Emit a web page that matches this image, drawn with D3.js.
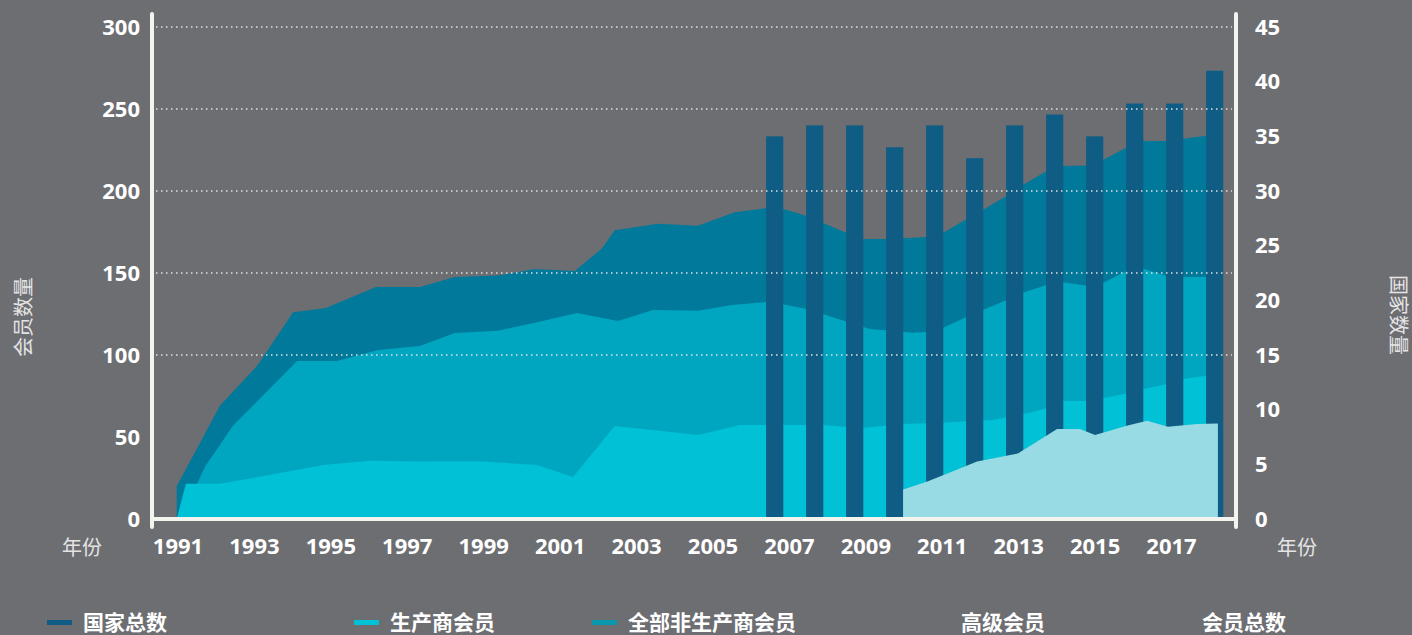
<!DOCTYPE html>
<html>
<head>
<meta charset="utf-8">
<script src="https://cdn.jsdelivr.net/npm/d3@7"></script>
<style>
  body { margin: 0; background: #6d6e72; }
  svg { display: block; }
</style>
</head>
<body>
<script>
// data: [year, value]
const yearLabels = ["1991", "1993", "1995", "1997", "1999", "2001", "2003", "2005", "2007", "2009", "2011", "2013", "2015", "2017"];

const totalMembers = [[1991.05, 20], [1992.13, 69], [1993.08, 94], [1993.96, 126], [1994.78, 128.6], [1996.03, 141.5],
  [1997.13, 141.5], [1998, 147.6], [1999.08, 148.4], [2000, 152.4], [2001, 151.2], [2001.68, 165], [2002, 176],
  [2003.08, 180], [2004.08, 178.8], [2005, 187], [2005.8, 189.6], [2006.2, 189], [2006.46, 187.4], [2006.8, 184.8],
  [2007.2, 180.7], [2007.8, 174.4], [2008.2, 170.7], [2008.8, 170.7], [2009.8, 172], [2010.2, 174.4], [2010.63, 180.5],
  [2011.2, 188.4], [2011.76, 196.5], [2012.2, 203.7], [2012.8, 212.2], [2013.2, 215.2], [2013.8, 215.6], [2014.2, 218.9],
  [2014.8, 226.6], [2015.2, 230.5], [2015.8, 230.5], [2016.38, 232.5], [2016.8, 233.7], [2017, 234]];

const nonProducers = [[1991.05, 0], [1991.55, 21], [1991.76, 32], [1992.46, 57], [1994.06, 96.3], [1995.06, 96.3],
  [1996.08, 103], [1997.13, 105.5], [1998, 113.4], [1999.08, 114.8], [2000.06, 120], [2001.06, 125.6], [2002.08, 120.7],
  [2002.96, 127.4], [2004.08, 127], [2004.93, 130.5], [2005.8, 132.3], [2006.2, 131], [2006.8, 128], [2007.2, 125],
  [2007.8, 120.3], [2008.38, 115.9], [2009.46, 113.6], [2009.8, 114], [2010.2, 116.5], [2010.63, 121.3], [2011.2, 127.4],
  [2011.76, 133.1], [2012.2, 138], [2012.8, 142.7], [2013.2, 144.3], [2013.8, 142.3], [2014.2, 143.7], [2014.8, 151.4],
  [2015.2, 152.8], [2015.8, 148.2], [2016.2, 147.6], [2017, 147.6]];

const producers = [[1991.05, 0], [1991.28, 21.5], [1992.13, 21.5], [1992.96, 25], [1994.71, 33], [1995.88, 35.5],
  [1997.13, 35], [1998.56, 35.2], [2000.06, 33], [2000.96, 25.6], [2002, 56.7], [2003.06, 53.9], [2004.08, 51.2],
  [2005.13, 57.3], [2007.2, 57.3], [2007.8, 56.1], [2008.2, 55.5], [2009.21, 57.9], [2010.2, 58.7], [2010.7, 59.5],
  [2011.46, 60.4], [2012.38, 64.8], [2012.8, 67.5], [2013.2, 72], [2013.8, 72], [2014.2, 73.6], [2014.8, 76.6],
  [2015.2, 79.1], [2015.8, 82.1], [2016.2, 85.4], [2016.8, 87.4], [2017, 88]];

const premium = [[2009.21, 18], [2009.8, 22.7], [2010.38, 28.3], [2011.06, 35], [2012.08, 40], [2013.06, 54.9],
  [2013.63, 54.9], [2014.01, 51.2], [2014.8, 56.9], [2015.31, 59.9], [2015.83, 56.3], [2016.56, 57.9], [2017.08, 58.3]];

const barYears = [2006, 2007, 2008, 2009, 2010, 2011, 2012, 2013, 2014, 2015, 2016, 2017];
const countries = [35, 36, 36, 34, 36, 33, 36, 37, 35, 38, 38, 41];

const leftTicks = [0, 50, 100, 150, 200, 250, 300];
const rightTicks = [0, 5, 10, 15, 20, 25, 30, 35, 40, 45];
const gridVals = [100, 150, 200, 250, 300];

const legendLabels = ["国家总数", "生产商会员", "全部非生产商会员", "高级会员", "会员总数"];

// colours
const cTotal = "#01799b", cNon = "#00a6c0", cProd = "#00c1d5", cPrem = "#99dbe4", cBar = "#0f5d84";
const bg = "#6d6e72", axisCol = "#f4f4ef";
const numFont = "'Open Sans', 'DejaVu Sans', sans-serif";
const cjkFont = "'Noto Sans CJK SC', 'Noto Sans', sans-serif";

const W = 1412, H = 635;
const svg = d3.select("body").append("svg").attr("width", W).attr("height", H);
svg.append("rect").attr("width", W).attr("height", H).attr("fill", bg);

const x = d3.scaleLinear().domain([1991, 2017]).range([174.7, 1214.7]);
const xLab = d3.scalePoint().domain(yearLabels).range([177.5, 1171]);
const yL = d3.scaleLinear().domain([0, 300]).range([519, 27]);
const yR = d3.scaleLinear().domain([0, 45]).range([519, 27]);

const area = d3.area()
  .x(d => x(d[0]))
  .y0(yL(0))
  .y1(d => yL(d[1]));

svg.append("path").datum(totalMembers).attr("d", area).attr("fill", cTotal);
svg.append("path").datum(nonProducers).attr("d", area).attr("fill", cNon);
svg.append("path").datum(producers).attr("d", area).attr("fill", cProd);

// country bars (right axis)
const barW = (x(1992) - x(1991)) * 0.43;
svg.append("g").selectAll("rect")
  .data(barYears)
  .enter()
  .append("rect")
  .attr("x", d => x(d) - barW / 2)
  .attr("y", (d, i) => yR(countries[i]))
  .attr("width", barW)
  .attr("height", (d, i) => yR(0) - yR(countries[i]))
  .attr("fill", cBar);

svg.append("path").datum(premium).attr("d", area).attr("fill", cPrem);

// dotted gridlines sit on top
svg.append("g").selectAll("line")
  .data(gridVals)
  .enter()
  .append("line")
  .attr("x1", 156).attr("x2", 1232)
  .attr("y1", d => yL(d)).attr("y2", d => yL(d))
  .attr("stroke", "#e2e2e2")
  .attr("stroke-width", 1.5)
  .attr("stroke-dasharray", "1.5,3.5");

// axes
const styleAxis = g => {
  g.select(".domain").remove();
  g.selectAll("text")
    .attr("fill", "#ffffff")
    .style("font-family", numFont)
    .style("font-weight", 700)
    .style("font-size", "22px");
};

svg.append("g")
  .attr("transform", "translate(152,0)")
  .call(d3.axisLeft(yL).tickValues(leftTicks).tickSize(0).tickPadding(12))
  .call(styleAxis);

svg.append("g")
  .attr("transform", "translate(1236,0)")
  .call(d3.axisRight(yR).tickValues(rightTicks).tickSize(0).tickPadding(19))
  .call(styleAxis);

svg.append("g")
  .attr("transform", "translate(0,519)")
  .call(d3.axisBottom(xLab).tickSize(0).tickPadding(19))
  .call(styleAxis);

// axis lines
const axisLines = [[152, 14, 152, 527], [152, 519, 1236, 519], [1236, 14, 1236, 527]];
svg.append("g").selectAll("line")
  .data(axisLines)
  .enter()
  .append("line")
  .attr("x1", d => d[0]).attr("y1", d => d[1])
  .attr("x2", d => d[2]).attr("y2", d => d[3])
  .attr("stroke", axisCol)
  .attr("stroke-width", 4)
  .attr("stroke-linecap", "round");

// axis titles
const titleStyle = t => t
  .attr("fill", "#e4e4e4")
  .style("font-family", cjkFont)
  .style("font-size", "20px")
  .attr("text-anchor", "middle")
  .attr("dominant-baseline", "central");

svg.append("text").text("年份").attr("x", 82).attr("y", 546).call(titleStyle);
svg.append("text").text("年份").attr("x", 1297).attr("y", 546).call(titleStyle);
svg.append("text").text("会员数量")
  .attr("transform", "translate(22,317) rotate(-90)").call(titleStyle);
svg.append("text").text("国家数量")
  .attr("transform", "translate(1399,315) rotate(90)").call(titleStyle);

// legend
const legendX = [83, 390, 628, 961, 1202];
const legendSwatch = [cBar, cProd, "#0a98ae", null, null];
const lg = svg.append("g").selectAll("g")
  .data(legendLabels)
  .enter()
  .append("g");

lg.filter((d, i) => legendSwatch[i])
  .append("rect")
  .attr("x", (d, i) => legendX[i] - 36)
  .attr("y", 620)
  .attr("width", 25)
  .attr("height", 5)
  .attr("fill", (d, i) => legendSwatch[i]);

lg.append("text")
  .text(d => d)
  .attr("x", (d, i) => legendX[i])
  .attr("y", 621)
  .attr("dominant-baseline", "central")
  .attr("fill", "#ffffff")
  .style("font-family", cjkFont)
  .style("font-weight", 700)
  .style("font-size", "21px");
</script>
</body>
</html>
